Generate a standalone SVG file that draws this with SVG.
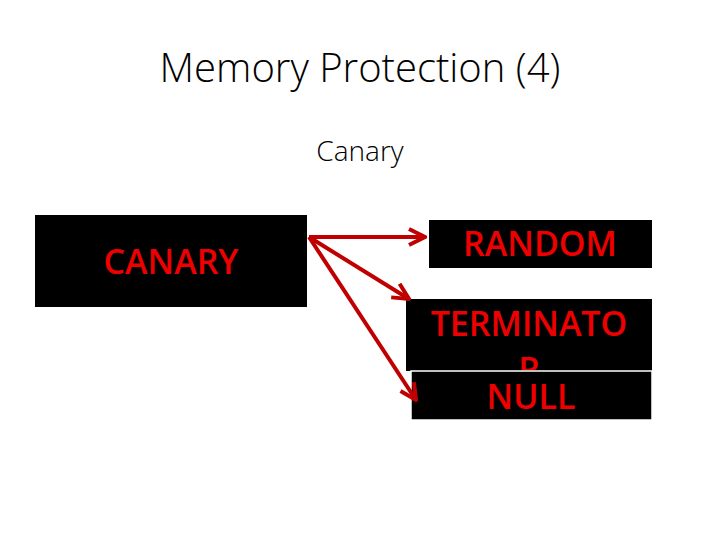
<svg xmlns="http://www.w3.org/2000/svg" width="720" height="540" viewBox="0 0 720 540">
<style>
text{font-family:"Open Sans","DejaVu Sans",sans-serif}
.box{fill:#000}
.lbl{fill:#ee0000;font-size:34px;font-weight:600;text-anchor:middle}
.c{stroke:#c00000;stroke-width:4;fill:none;marker-end:url(#a)}
</style>
<defs><marker id="a" viewBox="0 0 10 10" refX="9" refY="5" markerWidth="5" markerHeight="5" orient="auto"><path d="M1,1 L9,5 L1,9" fill="none" stroke="#c00000" stroke-width="2"/></marker>
<clipPath id="tc"><rect x="406" y="299" width="246" height="71"/></clipPath></defs>
<rect width="720" height="540" fill="#fff"/>
<text x="360" y="82" font-size="40" font-weight="300" text-anchor="middle" fill="#000">Memory Protection (4)</text>
<text x="360" y="161" font-size="28" font-weight="300" text-anchor="middle" fill="#000">Canary</text>
<g id="canary"><rect class="box" x="35" y="215" width="272" height="92"/><text class="lbl" x="171" y="274">CANARY</text></g>
<g id="random"><rect class="box" x="429" y="220" width="223" height="48"/><text class="lbl" x="540" y="256">RANDOM</text></g>
<g id="terminator"><rect class="box" x="406" y="299" width="246" height="72"/><text class="lbl" x="529" y="336">TERMINATO</text><text class="lbl" x="529" y="382" clip-path="url(#tc)">R</text></g>
<g id="null"><rect class="box" x="411" y="371" width="241" height="49" stroke="#fff" stroke-width="1.5"/><text class="lbl" x="531" y="409">NULL</text></g>
<g id="connectors">
<line class="c" x1="309" y1="237" x2="425" y2="237"/>
<line class="c" x1="309" y1="237" x2="409" y2="299"/>
<line class="c" x1="309" y1="237" x2="416" y2="400"/>
</g>
</svg>
